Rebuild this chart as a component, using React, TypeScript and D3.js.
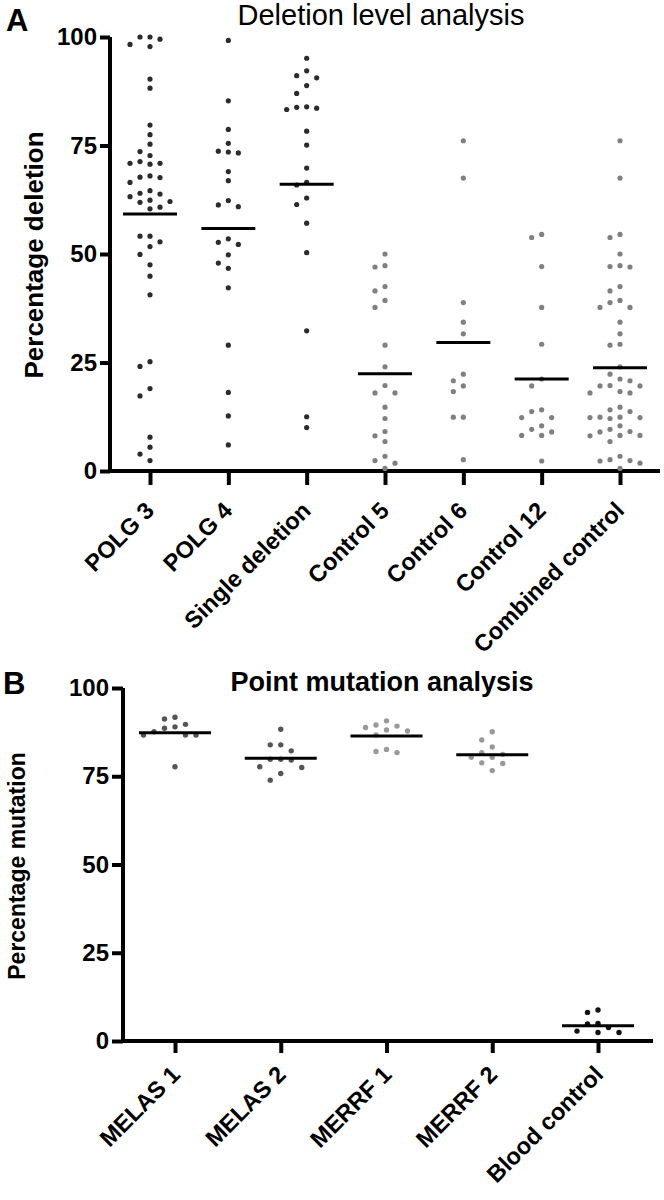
import { useEffect, useRef } from 'react'
import * as d3 from 'd3'

// Panel A – deletion level (% deletion per group)
const groupsA = ["POLG 3", "POLG 4", "Single deletion", "Control 5", "Control 6", "Control 12", "Combined control"]

const polg3 = [100, 98.3, 97.8, 99.5, 100, 90.3, 88.2, 79.7, 77.5, 75.3, 72.7, 73.6, 70.9, 70.7, 70.9, 71.3,
  68.0, 67.6, 66.5, 67.7, 64.0, 63.2, 63.8, 64.6, 62.1, 60.8, 60.4, 61.9, 62.4, 54.1, 54.1, 51.7, 52.8,
  49.9, 47.5, 44.9, 40.6, 25.2, 24.1, 17.3, 19.0, 7.8, 5.5, 3.9, 2.4]
const polg4 = [99.2, 85.3, 78.7, 73.7, 73.3, 73.5, 75.5, 69.0, 66.9, 62.3, 60.9, 61.3, 53.5, 52.7, 52.2,
  49.8, 47.9, 46.7, 42.2, 29.0, 18.1, 12.7, 6.0]
const singleDeletion = [95.1, 92.2, 90.6, 91.1, 88.8, 87.0, 83.8, 83.3, 83.6, 83.9, 78.3, 75.1, 69.8, 65.9,
  66.5, 62.9, 61.4, 57.1, 50.3, 32.3, 12.5, 10.0]
const control5 = [50.0, 47.3, 47.0, 42.5, 41.5, 39.3, 37.7, 29.0, 24.0, 19.7, 18.0, 18.0, 14.7, 12.1, 9.1,
  8.1, 6.8, 2.4, 3.4, 1.8, 0.6]
const control6 = [76.1, 67.5, 38.8, 34.3, 31.6, 22.3, 20.8, 19.6, 18.3, 12.4, 12.4, 2.6]
const control12 = [54.5, 53.8, 47.1, 37.7, 29.2, 21.2, 19.6, 13.7, 14.1, 12.3, 12.3, 9.6, 8.2, 8.2, 9.0, 10.4, 2.3]
const combinedControl = [...control5, ...control6, ...control12]
const seriesA = [polg3, polg4, singleDeletion, control5, control6, control12, combinedControl]
const meansA = [59.2, 55.9, 66.1, 22.4, 29.6, 21.2, 23.8]

// Panel B – point mutation level (% mutation per group)
const groupsB = ["MELAS 1", "MELAS 2", "MERRF 1", "MERRF 2", "Blood control"]
const melas1 = [89.0, 87.6, 91.7, 89.7, 91.2, 88.6, 86.7, 86.7, 86.7, 77.7]
const melas2 = [88.3, 83.9, 83.9, 82.2, 79.8, 79.8, 79.6, 77.7, 77.5, 75.8, 73.9]
const merrf1 = [89.5, 88.8, 87.8, 90.7, 86.7, 88.1, 89.2, 82.6, 81.7, 82.0]
const merrf2 = [87.6, 85.3, 83.3, 81.7, 81.2, 80.4, 80.4, 78.8, 78.6, 76.6]
const bloodControl = [8.8, 8.1, 5.0, 4.8, 3.8, 2.8, 2.4, 2.4]
const seriesB = [melas1, melas2, merrf1, merrf2, bloodControl]
const meansB = [87.3, 80.1, 86.4, 81.1, 4.3]

const yTicks = [0, 25, 50, 75, 100]

const FONT = "'Liberation Sans', Arial, Helvetica, sans-serif"
const DARK = "#2b2b2b"
const GREY = "#808080"

// simple column swarm: try centre, then alternate sides
function swarm(vals: number[], y: (v: number) => number, cx: number, step: number, minDist: number) {
  const pts = vals.map(v => ({ v, y: y(v), x: cx })).sort((a, b) => a.y - b.y)
  const placed: { x: number, y: number }[] = []
  pts.forEach(p => {
    for (let k = 0; k < 20; k++) {
      const off = k === 0 ? 0 : (k % 2 === 1 ? -Math.ceil(k / 2) : Math.ceil(k / 2))
      const x = cx + off * step
      if (placed.every(q => Math.hypot(q.x - x, q.y - p.y) >= minDist)) {
        p.x = x
        placed.push({ x, y: p.y })
        break
      }
    }
  })
  return pts
}

interface PanelOpts {
  groups: string[]
  series: number[][]
  means: number[]
  colors: string[]
  xRange: [number, number]
  yRange: [number, number]
  axisX: number
  axisEnd: number
  yTickLen: number
  xTickLen: number
  labelShift: [number, number]
  step: number
  halfLine: number
  r: number
}

function drawPanel(svg: d3.Selection<SVGSVGElement, unknown, null, undefined>, o: PanelOpts) {
  const x = d3.scalePoint<string>().domain(o.groups).range(o.xRange)
  const y = d3.scaleLinear().domain([0, 100]).range(o.yRange)
  const y0 = y(0)
  const g = svg.append("g")

  // y axis
  const ya = g.append("g")
    .attr("transform", `translate(${o.axisX},0)`)
    .call(d3.axisLeft(y).tickValues(yTicks).tickSize(o.yTickLen).tickSizeOuter(0).tickPadding(3))
  ya.select(".domain").remove()
  ya.selectAll("line").attr("stroke", "#000").attr("stroke-width", 4)
  ya.selectAll("text").attr("font-family", FONT).attr("font-size", 24).attr("font-weight", "bold").attr("fill", "#000")
  ya.attr("font-family", null).attr("font-size", null)

  // x axis
  const xa = g.append("g")
    .attr("transform", `translate(0,${y0})`)
    .call(d3.axisBottom(x).tickSize(o.xTickLen).tickSizeOuter(0))
  xa.select(".domain").remove()
  xa.selectAll("line").attr("stroke", "#000").attr("stroke-width", 4)
  xa.selectAll("text")
    .attr("font-family", FONT).attr("font-size", 23.5).attr("font-weight", "bold").attr("fill", "#000")
    .attr("text-anchor", "end")
    .attr("y", null).attr("dy", null)
    .attr("transform", `translate(${o.labelShift[0]},${o.labelShift[1]}) rotate(-45)`)
  xa.attr("font-family", null).attr("font-size", null)

  // axis lines
  g.append("line").attr("x1", o.axisX).attr("x2", o.axisX).attr("y1", y(100)).attr("y2", y0 + 2)
    .attr("stroke", "#000").attr("stroke-width", 4)
  g.append("line").attr("x1", o.axisX).attr("x2", o.axisEnd).attr("y1", y0).attr("y2", y0)
    .attr("stroke", "#000").attr("stroke-width", 4)

  // dots + mean lines
  o.groups.forEach((name, i) => {
    const cx = x(name)!
    const pts = swarm(o.series[i], y, cx, o.step, o.step * 0.85)
    g.append("g").selectAll("circle")
      .data(pts)
      .join("circle")
      .attr("cx", d => d.x)
      .attr("cy", d => d.y)
      .attr("r", o.r)
      .attr("fill", o.colors[i])
    g.append("line")
      .attr("x1", cx - o.halfLine).attr("x2", cx + o.halfLine)
      .attr("y1", y(o.means[i])).attr("y2", y(o.means[i]))
      .attr("stroke", "#000").attr("stroke-width", 3)
  })
}

export default function App() {
  const svgRef = useRef<SVGSVGElement>(null)

  useEffect(() => {
    if (!svgRef.current) return
    const svg = d3.select(svgRef.current)
    svg.selectAll("*").remove()

    drawPanel(svg, {
      groups: groupsA, series: seriesA, means: meansA,
      colors: [DARK, DARK, DARK, GREY, GREY, GREY, GREY],
      xRange: [150, 620], yRange: [471, 37], axisX: 110, axisEnd: 660,
      yTickLen: 10, xTickLen: 14, labelShift: [5, 41], step: 10, halfLine: 27, r: 2.6
    })
    drawPanel(svg, {
      groups: groupsB, series: seriesB, means: meansB,
      colors: ["#555555", "#555555", "#999999", "#999999", "#111111"],
      xRange: [175, 598], yRange: [1041, 688], axisX: 123, axisEnd: 653,
      yTickLen: 11, xTickLen: 12, labelShift: [6, 35], step: 10.5, halfLine: 36, r: 2.7
    })

    // titles and labels
    const txt = (s: string, x: number, y: number, size: number, weight: string, anchor = "start", rot = 0) =>
      svg.append("text")
        .attr("transform", `translate(${x},${y})${rot ? ` rotate(${rot})` : ""}`)
        .attr("font-family", FONT).attr("font-size", size).attr("font-weight", weight)
        .attr("text-anchor", anchor).attr("fill", "#000").text(s)

    txt("A", 6, 31, 31, "bold")
    txt("B", 3, 694, 31, "bold")
    txt("Deletion level analysis", 381, 25, 29, "normal", "middle")
    txt("Point mutation analysis", 382, 691, 27, "bold", "middle")
    txt("Percentage deletion", 43, 255, 26, "bold", "middle", -90)
    txt("Percentage mutation", 25, 866, 23, "bold", "middle", -90)
  }, [])

  return (
    <div style={{ position: "absolute", left: 0, top: 0 }}>
      <svg ref={svgRef} width={664} height={1200} style={{ display: "block", background: "#fff" }} />
    </div>
  )
}
